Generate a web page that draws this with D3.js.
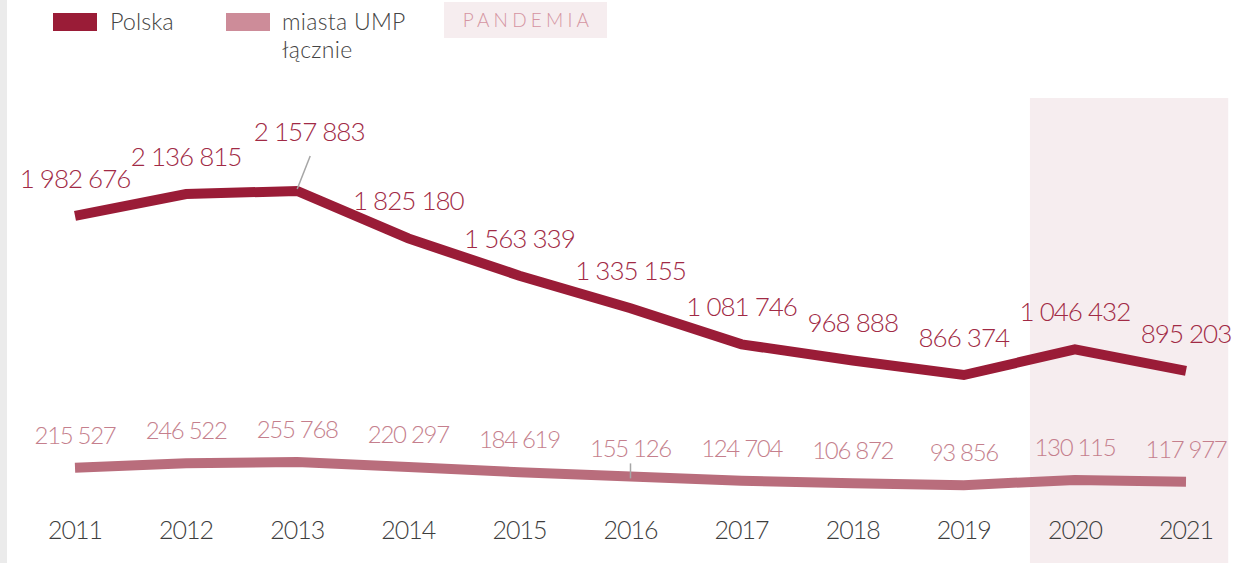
<!DOCTYPE html>
<html>
<head>
<meta charset="utf-8">
<script src="https://cdn.jsdelivr.net/npm/d3@7"></script>
<style>
  html, body { margin: 0; padding: 0; background: #ffffff; }
  svg { display: block; font-family: Lato, "Open Sans", sans-serif; font-weight: 300; }
</style>
</head>
<body>
<svg id="chart" width="1251" height="563"></svg>
<script>
// Years on the x axis
const years = ["2011", "2012", "2013", "2014", "2015", "2016", "2017", "2018", "2019", "2020", "2021"];
// Poland total
const polska = [1982676, 2136815, 2157883, 1825180, 1563339, 1335155, 1081746, 968888, 866374, 1046432, 895203];
// UMP cities combined
const ump = [215527, 246522, 255768, 220297, 184619, 155126, 124704, 106872, 93856, 130115, 117977];
// Years marked as the pandemic period
const pandemicYears = ["2020", "2021"];
// Legend entries
const legendItems = ["Polska", "miasta UMP łącznie"];

const COL_PL = "#9a1c37", COL_PL_TXT = "#a12a45";
const COL_UMP = "#b96d7c", COL_UMP_TXT = "#c57f8d", COL_UMP_SW = "#cd8c99";
const COL_BAND = "#f6edef", COL_YEAR = "#3d3d3d", COL_LEADER = "#a6a6a6";

const svg = d3.select("#chart");
const W = 1251, H = 563;

const x = d3.scalePoint().domain(years).range([75, 1186]);
const y = d3.scaleLinear().domain([0, 2200000]).range([498.5, 185]);
const step = x.step();

const fmt = v => d3.format(",")(v).replace(/,/g, " ");

// left grey edge
svg.append("rect").attr("x", 0).attr("y", 0).attr("width", 7).attr("height", H).attr("fill", "#ebebeb");

// pandemic band
svg.append("rect")
  .attr("x", x(pandemicYears[0]) - step * 0.405)
  .attr("y", 98)
  .attr("width", x(pandemicYears[pandemicYears.length - 1]) - x(pandemicYears[0]) + step * 0.785)
  .attr("height", H - 98)
  .attr("fill", COL_BAND);

// legend
const lg = svg.append("g");
lg.append("rect").attr("x", 53).attr("y", 13).attr("width", 44).attr("height", 18).attr("fill", COL_PL);
lg.append("text").attr("x", 110).attr("y", 30).attr("font-size", 23.5).attr("fill", "#444")
  .text(legendItems[0]);
lg.append("rect").attr("x", 226).attr("y", 13).attr("width", 44).attr("height", 18).attr("fill", COL_UMP_SW);
const umpParts = legendItems[1].split(" ");
lg.append("text").attr("x", 282).attr("y", 30).attr("font-size", 23)
  .attr("letter-spacing", 0.3).attr("fill", "#444")
  .text(umpParts.slice(0, 2).join(" "));
lg.append("text").attr("x", 282).attr("y", 58).attr("font-size", 23)
  .attr("letter-spacing", 0.3).attr("fill", "#444")
  .text(umpParts.slice(2).join(" "));
lg.append("rect").attr("x", 444).attr("y", 2).attr("width", 163).attr("height", 36).attr("fill", COL_BAND);
lg.append("text").attr("x", 528).attr("y", 27).attr("text-anchor", "middle")
  .attr("font-size", 19).attr("letter-spacing", 4.2).attr("fill", "#d595a2")
  .text("PANDEMIA");

// year labels
svg.append("g").selectAll("text").data(years).join("text")
  .attr("x", d => x(d)).attr("y", 539)
  .attr("text-anchor", "middle").attr("font-size", 25).attr("letter-spacing", -1)
  .attr("fill", COL_YEAR).text(d => d);

const line = d3.line().x((d, i) => x(years[i])).y(d => y(d));

svg.append("path").datum(ump).attr("d", line)
  .attr("fill", "none").attr("stroke", COL_UMP).attr("stroke-width", 10);
svg.append("path").datum(polska).attr("d", line)
  .attr("fill", "none").attr("stroke", COL_PL).attr("stroke-width", 10);

// Poland value labels; 2013 is lifted with a leader line
const plLabels = svg.append("g");
polska.forEach((v, i) => {
  const px = x(years[i]), py = y(v);
  let lx = px, ly = py - 28;
  if (years[i] === "2013") {
    lx = px + 12; ly = py - 50;
    plLabels.append("line").attr("x1", px + 13).attr("y1", py - 35).attr("x2", px).attr("y2", py - 2)
      .attr("stroke", COL_LEADER).attr("stroke-width", 1.5);
  }
  plLabels.append("text").attr("x", lx).attr("y", ly).attr("text-anchor", "middle")
    .attr("font-size", 26).attr("letter-spacing", -1).attr("fill", COL_PL_TXT).text(fmt(v));
});

// UMP value labels; 2016 gets a short tick down to the line
const umpLabels = svg.append("g");
ump.forEach((v, i) => {
  const px = x(years[i]), py = y(v);
  let ly = py - 24;
  if (years[i] === "2016") {
    ly = py - 19;
    umpLabels.append("line").attr("x1", px).attr("y1", py - 13).attr("x2", px).attr("y2", py + 2)
      .attr("stroke", COL_LEADER).attr("stroke-width", 1.5);
  }
  umpLabels.append("text").attr("x", px).attr("y", ly).attr("text-anchor", "middle")
    .attr("font-size", 24).attr("letter-spacing", -1.3).attr("fill", COL_UMP_TXT).text(fmt(v));
});
</script>
</body>
</html>
